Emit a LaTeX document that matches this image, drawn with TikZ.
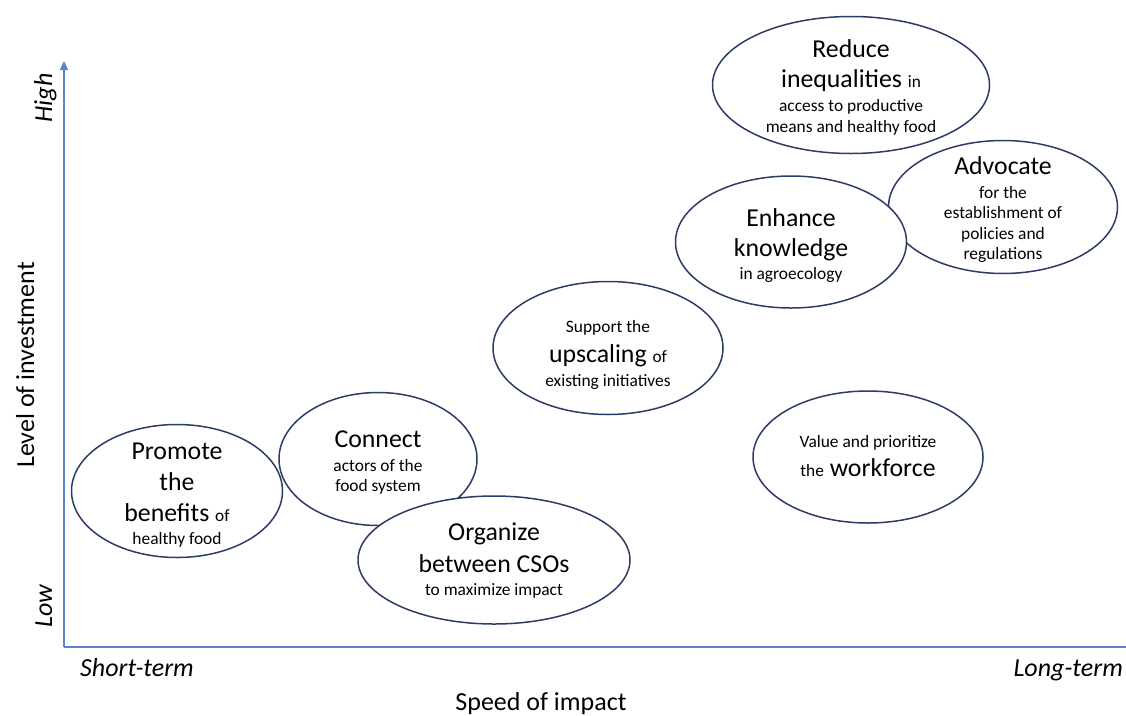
\documentclass[tikz,border=0pt]{standalone}
\usepackage{fontspec}
\setmainfont{Carlito}
\usetikzlibrary{shapes.geometric,arrows.meta}
\definecolor{bubbleline}{RGB}{45,60,102}
\definecolor{axisblue}{RGB}{92,130,205}
\newcommand\smtxt[1]{{\fontsize{17.3}{21}\selectfont #1}}
\begin{document}
\begin{tikzpicture}[x=1pt,y=-1pt,
  bubble/.style={ellipse, draw=bubbleline, line width=1.5pt, fill=white, inner sep=0pt},
  bigline/.style={font=\fontsize{25.8}{30}\selectfont, anchor=base, inner sep=0pt},
  smallline/.style={font=\fontsize{17.4}{21}\selectfont, anchor=base, inner sep=0pt},
  axislabel/.style={font=\fontsize{26}{30}\selectfont, anchor=base, inner sep=0pt},
  axis/.style={draw=axisblue, line width=1.1pt}]
\useasboundingbox (0,0) rectangle (1126,715);

% axes
\coordinate (origin) at (64,647);
\coordinate (ytip) at (64,61);
\coordinate (xend) at (1126,647);
\draw[axis, -{Triangle[length=9pt,width=8pt]}] (origin) -- (ytip);
\draw[axis] (origin) -- (xend);

% axis labels
\node[axislabel, rotate=90] (lvl) at (34,365) {Level of investment};
\node[axislabel, rotate=90] (high) at (52,98) {\itshape High};
\node[axislabel, rotate=90] (low) at (52,606) {\itshape Low};
\node[axislabel, anchor=base west] (short) at (80,676) {\itshape Short-term};
\node[axislabel, anchor=base east] (long) at (1123,676) {\itshape Long-term};
\node[axislabel] (speed) at (541,710) {Speed of impact};

% Promote
\node[bubble, minimum width=211pt, minimum height=133pt] (promote) at (177,491) {};
\node[bigline] (promote1) at (177,459) {Promote};
\node[bigline] (promote2) at (177,490) {the};
\node[bigline] (promote3) at (177,521) {benefits \smtxt{of}};
\node[smallline] (promote4) at (177,544) {healthy food};

% Connect
\node[bubble, minimum width=198pt, minimum height=133pt] (connect) at (378,459) {};
\node[bigline] (connect1) at (378,447) {Connect};
\node[smallline] (connect2) at (378,471) {actors of the};
\node[smallline] (connect3) at (378,491) {food system};

% Organize
\node[bubble, minimum width=272pt, minimum height=128pt] (organize) at (494,560) {};
\node[bigline] (organize1) at (494,540) {Organize};
\node[bigline] (organize2) at (494,572) {between CSOs};
\node[smallline] (organize3) at (494,595) {to maximize impact};

% Support
\node[bubble, minimum width=230pt, minimum height=133pt] (support) at (608,348) {};
\node[smallline] (support1) at (608,332) {Support the};
\node[bigline] (support2) at (608,362) {upscaling \smtxt{of}};
\node[smallline] (support3) at (608,386) {existing initiatives};

% Value
\node[bubble, minimum width=230pt, minimum height=132pt] (value) at (868,457) {};
\node[smallline] (value1) at (868,447) {Value and prioritize};
\node[bigline] (value2) at (868,476) {\smtxt{the} workforce};

% Advocate
\node[bubble, minimum width=229pt, minimum height=133pt] (advocate) at (1003,207) {};
\node[bigline] (advocate1) at (1003,174) {Advocate};
\node[smallline] (advocate2) at (1003,198) {for the};
\node[smallline] (advocate3) at (1003,218) {establishment of};
\node[smallline] (advocate4) at (1003,239) {policies and};
\node[smallline] (advocate5) at (1003,259) {regulations};

% Enhance
\node[bubble, minimum width=231pt, minimum height=132pt] (enhance) at (791,242) {};
\node[bigline] (enhance1) at (791,226) {Enhance};
\node[bigline] (enhance2) at (791,256) {knowledge};
\node[smallline] (enhance3) at (791,279) {in agroecology};

% Reduce
\node[bubble, minimum width=277pt, minimum height=137pt] (reduce) at (851,85) {};
\node[bigline] (reduce1) at (851,57) {Reduce};
\node[bigline] (reduce2) at (851,87) {inequalities \smtxt{in}};
\node[smallline] (reduce3) at (851,111) {access to productive};
\node[smallline] (reduce4) at (851,132) {means and healthy food};
\end{tikzpicture}
\end{document}
